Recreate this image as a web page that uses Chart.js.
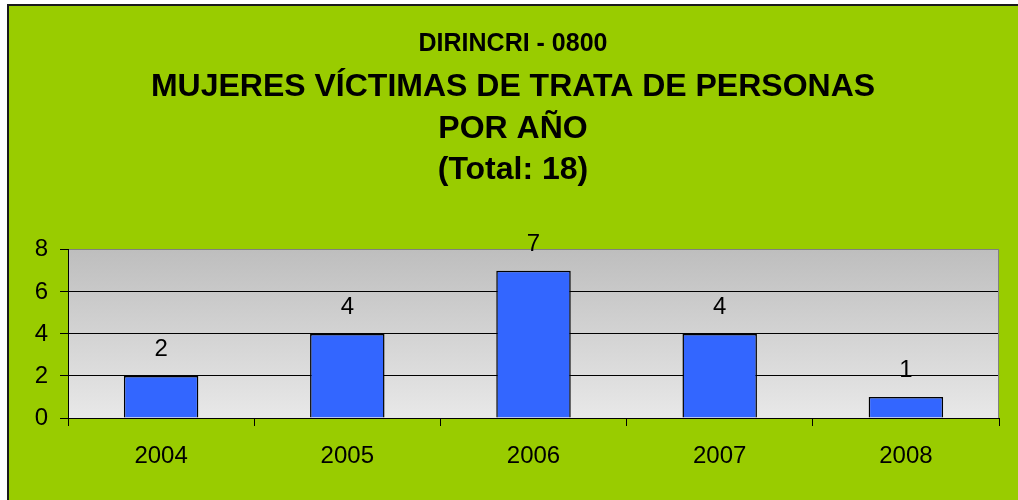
<!DOCTYPE html>
<html><head><meta charset="utf-8">
<script src="https://cdn.jsdelivr.net/npm/chart.js@4/dist/chart.umd.min.js"></script>
<style>html,body{margin:0;padding:0;background:#fff;}#wrap{width:1018px;height:500px;}</style>
</head><body><div id="wrap"><canvas id="c" width="1018" height="500"></canvas></div>
<script>
const years = ['2004', '2005', '2006', '2007', '2008'];
const victims = [2, 4, 7, 4, 1];
const yTicks = [0, 2, 4, 6, 8];
const titleTop = 'DIRINCRI - 0800';
const titleMain = ['MUJERES VÍCTIMAS DE TRATA DE PERSONAS', 'POR AÑO', '(Total: 18)'];

const FONT = "'Liberation Sans', Arial, Helvetica, sans-serif";
Chart.defaults.font.family = FONT;
Chart.defaults.color = '#000';

const bgPlugin = {
  id: 'bg',
  beforeDraw(chart) {
    const ctx = chart.ctx, a = chart.chartArea;
    ctx.save();
    ctx.fillStyle = '#ffffff';
    ctx.fillRect(0, 0, chart.width, chart.height);
    ctx.fillStyle = '#99CC00';
    ctx.fillRect(8, 5, chart.width, chart.height);
    ctx.strokeStyle = '#1a1a1a';
    ctx.lineWidth = 2;
    ctx.strokeRect(8, 5, chart.width + 20, chart.height + 20);
    const g = ctx.createLinearGradient(0, a.top, 0, a.bottom);
    g.addColorStop(0, '#BEBEBE');
    g.addColorStop(1, '#E8E8E8');
    ctx.fillStyle = g;
    ctx.fillRect(a.left, a.top, a.right - a.left, a.bottom - a.top);
    ctx.restore();
  },
  afterDraw(chart) {
    const ctx = chart.ctx, a = chart.chartArea;
    ctx.save();
    ctx.strokeStyle = '#808080';
    ctx.lineWidth = 1;
    ctx.beginPath();
    ctx.moveTo(Math.round(a.right) - 0.5, a.top);
    ctx.lineTo(Math.round(a.right) - 0.5, a.bottom);
    ctx.stroke();
    ctx.restore();
  }
};

const labelPlugin = {
  id: 'vals',
  afterDatasetsDraw(chart) {
    const ctx = chart.ctx;
    const meta = chart.getDatasetMeta(0);
    ctx.save();
    ctx.font = '24px ' + FONT;
    ctx.fillStyle = '#000';
    ctx.textAlign = 'center';
    ctx.textBaseline = 'alphabetic';
    meta.data.forEach((bar, i) => {
      ctx.fillText(String(chart.data.datasets[0].data[i]), bar.x, bar.y - 20);
    });
    ctx.restore();
  }
};

new Chart(document.getElementById('c'), {
  type: 'bar',
  data: {
    labels: years,
    datasets: [{
      data: victims,
      backgroundColor: '#3366FF',
      borderColor: '#000',
      borderWidth: 1.5,
      barPercentage: 0.4,
      categoryPercentage: 1.0
    }]
  },
  options: {
    responsive: false,
    animation: false,
    layout: { padding: { left: 27, right: 19, top: 0, bottom: 0 } },
    plugins: {
      legend: { display: false },
      tooltip: { enabled: false },
      title: {
        display: true,
        text: titleTop,
        font: { size: 25, weight: 'bold' },
        color: '#000',
        padding: { top: 29, bottom: 0 }
      },
      subtitle: {
        display: true,
        text: titleMain,
        font: { size: 32, weight: 'bold', lineHeight: 1.29 },
        color: '#000',
        padding: { top: 8, bottom: 59 }
      }
    },
    scales: {
      x: {
        grid: { display: true, drawOnChartArea: false, drawTicks: true, tickLength: 8, color: '#000', offset: true },
        border: { color: '#000', width: 1 },
        ticks: { font: { size: 24 }, color: '#000', padding: 16 },
        afterFit(s) { s.height = 82; }
      },
      y: {
        min: 0,
        max: 8,
        afterBuildTicks(s) { s.ticks = yTicks.map(v => ({ value: v })); },
        grid: {
          color: c => (c.tick && c.tick.value === 8) ? '#808080' : '#000',
          tickColor: '#000',
          tickLength: 8,
          lineWidth: 1
        },
        border: { color: '#000', width: 1 },
        ticks: { font: { size: 24 }, color: '#000', padding: 12 },
        afterFit(s) { s.width = 41; }
      }
    }
  },
  plugins: [bgPlugin, labelPlugin]
});
</script>
</body></html>
